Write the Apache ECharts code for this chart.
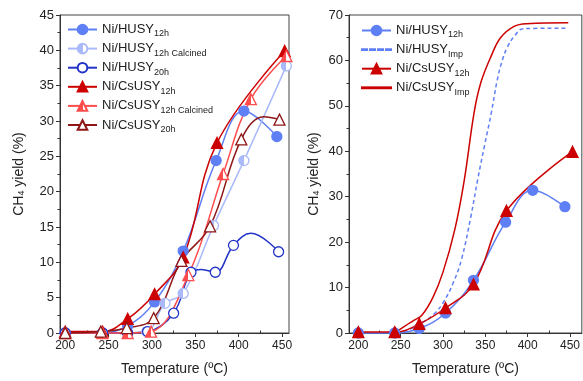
<!DOCTYPE html>
<html>
<head>
<meta charset="utf-8">
<script src="https://cdn.jsdelivr.net/npm/echarts@6/dist/echarts.min.js"></script>
<style>html,body{margin:0;padding:0;background:#fff;}#c{width:583px;height:381px;}</style>
</head>
<body>
<div id="c"></div>
<script>
// ---- data ----
const xTicks = [200, 250, 300, 350, 400, 450];
const xMinorTicks = [225, 275, 325, 375, 425];
// markers
const husy12h    = [[200,0],[243,0],[272,1.0],[303,4.4],[336,11.6],[374,24.4],[406,31.4],[444,27.8]];
const husy12hCal = [[200,0],[243,0],[272,0],[294,0.2],[315,4.2],[336,5.6],[371,15.2],[406,24.4],[455,37.8]];
const husy20h    = [[200,0],[243,0],[272,0],[295,0.2],[325,2.8],[345,8.6],[373,8.6],[394,12.4],[446,11.5]];
const csusy12h   = [[200,0.2],[243,0.2],[272,2.0],[303,5.5],[336,10.7],[375,26.9],[453,39.9]];
const csusy12hCal= [[200,0],[243,0],[272,0],[299,0.2],[342,8.2],[382,22.5],[414,33.1],[455,39.2]];
const csusy20h   = [[200,0],[241,0.2],[271,0.7],[302,2.1],[334,10.2],[367,15.1],[403,27.4],[447,30.2]];
// fitted-curve points between markers
const husy20hCurve  = [[357,9.0],[414,14.1]];
const csusy20hCurve = [[429,30.6]];
// impregnated catalysts (curves only)
const husyImp  = [[245,0],[260,0.8],[275,2.2],[290,4.3],[300,6.6],[312,11],[322,16.3],[333,25.7],[341,33.8],[349,41.2],[357,48.4],[364,55.6],[370,60],[376,62.9],[385,65.5],[395,67],[446,67.1]];
const csusyImp = [[243,0],[255,1.5],[265,2.7],[275,3.9],[288,7.8],[300,13.4],[314,22.8],[325,33.5],[337,48.8],[345,55.3],[357,61],[368,65],[384,67.5],[399,68.1],[448,68.3]];

const FONT = "'Liberation Sans', Arial, sans-serif";
const C = {
  husy12h: '#5f7ff5', husy12hCal: '#a9b9f9', husy20h: '#2233c8',
  cs12h: '#cc0000', cs12hCal: '#ff4c4c', cs20h: '#8e1616'
};
const labels = {
  'Ni/HUSY12h': ['Ni/HUSY', '12h'],
  'Ni/HUSY12h Calcined': ['Ni/HUSY', '12h Calcined'],
  'Ni/HUSY20h': ['Ni/HUSY', '20h'],
  'Ni/CsUSY12h': ['Ni/CsUSY', '12h'],
  'Ni/CsUSY12h Calcined': ['Ni/CsUSY', '12h Calcined'],
  'Ni/CsUSY20h': ['Ni/CsUSY', '20h'],
  'Ni/HUSYImp': ['Ni/HUSY', 'Imp'],
  'Ni/CsUSYImp': ['Ni/CsUSY', 'Imp']
};
function halfFill(c) {
  return new echarts.graphic.LinearGradient(0, 0, 1, 0, [
    {offset: 0, color: c}, {offset: 0.5, color: c},
    {offset: 0.5, color: '#ffffff'}, {offset: 1, color: '#ffffff'}]);
}
function withCurve(markers, curve) {
  const d = markers.map(p => ({value: p}));
  (curve || []).forEach(p => d.push({value: p, symbol: 'none'}));
  d.sort((a, b) => a.value[0] - b.value[0]);
  return d;
}
function mk(name, data, idx, color, symbol, fill, size, extra) {
  return Object.assign({
    name: name, type: 'line', xAxisIndex: idx, yAxisIndex: idx,
    data: data, smooth: 0.4, clip: false,
    symbol: symbol, symbolSize: size, showSymbol: true,
    lineStyle: {color: color, width: 1.5},
    itemStyle: {color: fill, borderColor: color, borderWidth: 1.3},
    emphasis: {disabled: true}, z: 3
  }, extra || {});
}

const axisLineStyle = {lineStyle: {color: '#333', width: 1}};
function xAxisMain(gi, min, max) {
  return {
    type: 'value', gridIndex: gi, min: min, max: max,
    axisLine: Object.assign({show: true, onZero: false}, axisLineStyle),
    axisTick: {show: true, inside: false, length: 4, customValues: xTicks, lineStyle: {color: '#333'}},
    axisLabel: {customValues: xTicks, fontFamily: FONT, fontSize: 12, color: '#222', margin: 7},
    splitLine: {show: false},
    name: 'Temperature (ºC)', nameLocation: 'middle', nameGap: 29,
    nameTextStyle: {fontFamily: FONT, fontSize: 14, color: '#222'}
  };
}
function xAxisMinor(gi, min, max) {
  return {
    type: 'value', gridIndex: gi, min: min, max: max,
    axisLine: {show: false},
    axisTick: {show: true, inside: false, length: 2.5, customValues: xMinorTicks, lineStyle: {color: '#333'}},
    axisLabel: {show: false}, splitLine: {show: false}
  };
}
function yAxis(gi, max, interval, gap) {
  return {
    type: 'value', gridIndex: gi, min: 0, max: max, interval: interval,
    axisLine: Object.assign({show: true}, axisLineStyle),
    axisTick: {show: true, inside: false, length: 4, lineStyle: {color: '#333'}},
    minorTick: {show: true, splitNumber: 2, length: 2.5, lineStyle: {color: '#333'}},
    axisLabel: {fontFamily: FONT, fontSize: 13, color: '#222', margin: 6},
    splitLine: {show: false},
    name: 'CH{s|4} yield (%)', nameLocation: 'middle', nameGap: gap,
    nameTextStyle: {fontFamily: FONT, fontSize: 14, color: '#222',
      rich: {s: {fontFamily: FONT, fontSize: 9, color: '#222', verticalAlign: 'bottom', lineHeight: 6}}}
  };
}
const legendText = {
  fontFamily: FONT, fontSize: 13, color: '#222',
  rich: {
    m: {fontFamily: FONT, fontSize: 13, color: '#222', lineHeight: 18},
    s: {fontFamily: FONT, fontSize: 9, color: '#222', lineHeight: 6, verticalAlign: 'bottom'}
  }
};
function fmt(name) { const l = labels[name]; return '{m|' + l[0] + '}{s|' + l[1] + '}'; }
// plain-line legend icons (solid and dashed bars the colour of the line)
const solidIcon = 'path://M0,0 H29 V0.9 H0 Z';
const dashIcon = 'path://M0,0 H5 V0.9 H0 Z M8,0 H13 V0.9 H8 Z M16,0 H21 V0.9 H16 Z M24,0 H29 V0.9 H24 Z';

const option = {
  animation: false,
  backgroundColor: '#fff',
  grid: [
    {left: 60, top: 15, width: 229, height: 324, show: true, borderColor: '#444', borderWidth: 1, backgroundColor: 'transparent'},
    {left: 349, top: 15, width: 236, height: 324, show: true, borderColor: '#444', borderWidth: 1, backgroundColor: 'transparent'}
  ],
  xAxis: [xAxisMain(0, 194, 458), xAxisMain(1, 189, 464), xAxisMinor(0, 194, 458), xAxisMinor(1, 189, 464)],
  yAxis: [yAxis(0, 45, 5, 34), yAxis(1, 70, 10, 28)],
  legend: [
    {orient: 'vertical', left: 67, top: 23, padding: 0, itemGap: 3.6, itemWidth: 29, itemHeight: 12,
     data: ['Ni/HUSY12h', 'Ni/HUSY12h Calcined', 'Ni/HUSY20h', 'Ni/CsUSY12h', 'Ni/CsUSY12h Calcined', 'Ni/CsUSY20h'],
     formatter: fmt, textStyle: legendText, selectedMode: false},
    {orient: 'vertical', left: 361, top: 24, padding: 0, itemGap: 3.6, itemWidth: 29, itemHeight: 12,
     data: ['Ni/HUSY12h', {name: 'Ni/HUSYImp', icon: dashIcon}, 'Ni/CsUSY12h', {name: 'Ni/CsUSYImp', icon: solidIcon}],
     formatter: fmt, textStyle: legendText, selectedMode: false}
  ],
  series: [
    mk('Ni/HUSY12h', withCurve(husy12h), 0, C.husy12h, 'circle', C.husy12h, 10),
    mk('Ni/HUSY12h Calcined', withCurve(husy12hCal), 0, C.husy12hCal, 'circle', halfFill(C.husy12hCal), 10),
    mk('Ni/HUSY20h', withCurve(husy20h, husy20hCurve), 0, C.husy20h, 'circle', '#ffffff', 10),
    mk('Ni/CsUSY12h', withCurve(csusy12h), 0, C.cs12h, 'triangle', C.cs12h, 11),
    mk('Ni/CsUSY12h Calcined', withCurve(csusy12hCal), 0, C.cs12hCal, 'triangle', halfFill(C.cs12hCal), 11),
    mk('Ni/CsUSY20h', withCurve(csusy20h, csusy20hCurve), 0, C.cs20h, 'triangle', '#ffffff', 11),
    // right chart
    mk('Ni/HUSYImp', husyImp, 1, C.husy12h, 'none', C.husy12h, 0, {lineStyle: {color: C.husy12h, width: 1.5, type: [4, 3]}, showSymbol: false}),
    mk('Ni/CsUSYImp', csusyImp, 1, C.cs12h, 'none', C.cs12h, 0, {showSymbol: false}),
    mk('Ni/HUSY12h', withCurve(husy12h), 1, C.husy12h, 'circle', C.husy12h, 10),
    mk('Ni/CsUSY12h', withCurve(csusy12h), 1, C.cs12h, 'triangle', C.cs12h, 11)
  ]
};
const chart = echarts.init(document.getElementById('c'), null, {renderer: 'canvas'});
chart.setOption(option);
</script>
</body>
</html>
